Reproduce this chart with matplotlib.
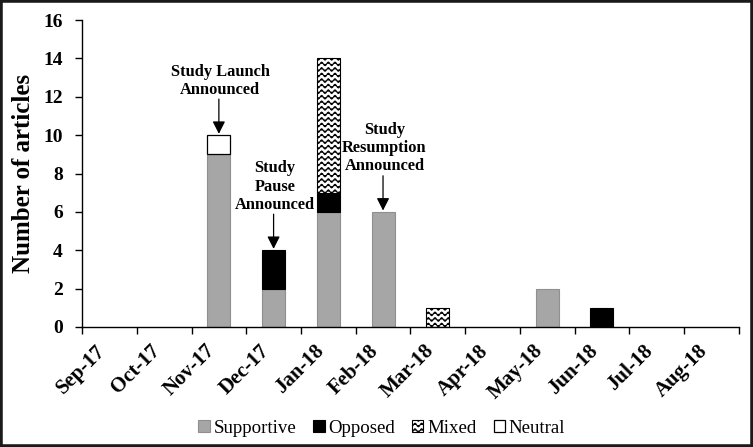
import numpy as np
import matplotlib
matplotlib.use("Agg")
import matplotlib.pyplot as plt
import matplotlib.hatch as mhatch
from matplotlib.path import Path
from matplotlib.patches import Rectangle

# ---------------- data ----------------
months = ["Sep-17", "Oct-17", "Nov-17", "Dec-17", "Jan-18", "Feb-18",
          "Mar-18", "Apr-18", "May-18", "Jun-18", "Jul-18", "Aug-18"]
supportive = [0, 0, 9, 2, 6, 6, 0, 0, 2, 0, 0, 0]
opposed    = [0, 0, 0, 2, 1, 0, 0, 0, 0, 1, 0, 0]
mixed      = [0, 0, 0, 0, 7, 0, 1, 0, 0, 0, 0, 0]
neutral    = [0, 0, 1, 0, 0, 0, 0, 0, 0, 0, 0, 0]
series_names = ["Supportive", "Opposed", "Mixed", "Neutral"]
events = ["Study Launch\nAnnounced", "Study\nPause\nAnnounced", "Study\nResumption\nAnnounced"]
event_months = ["Nov-17", "Dec-17", "Feb-18"]
yticks = [0, 2, 4, 6, 8, 10, 12, 14, 16]


# ---------------- wavy hatch (replaces the '-' hatch) ----------------
class WaveHatch(mhatch.HatchPatternBase):
    periods = 15
    per_period = 8
    amp = 0.018

    def __init__(self, hatch, density):
        self.num_lines = int((hatch.count('-') + hatch.count('+')) * density)
        self.npts = self.periods * self.per_period + 1
        self.num_vertices = self.num_lines * self.npts

    def set_vertices_and_codes(self, vertices, codes):
        n = self.num_lines
        x = np.linspace(0.0, 1.0, self.npts)
        for i in range(n):
            s = (i + 0.5) / n
            sl = slice(i * self.npts, (i + 1) * self.npts)
            vertices[sl, 0] = x
            vertices[sl, 1] = s + self.amp * np.sin(2 * np.pi * self.periods * x)
            codes[sl] = Path.LINETO
            codes[i * self.npts] = Path.MOVETO


for k, cls in enumerate(mhatch._hatch_types):
    if cls is mhatch.HorizontalHatch:
        mhatch._hatch_types[k] = WaveHatch

plt.rcParams['font.family'] = ['Liberation Serif', 'DejaVu Serif']
plt.rcParams['hatch.linewidth'] = 0.8
plt.rcParams['hatch.color'] = 'black'

fig = plt.figure(figsize=(7.53, 4.47), dpi=100)
ax = fig.add_axes([0.109, 0.2685, 0.872, 0.6865])

x = np.arange(len(months))
w = 0.42
sup = np.array(supportive, float)
opp = np.array(opposed, float)
mix = np.array(mixed, float)
neu = np.array(neutral, float)


def nz(v):
    return np.where(v > 0, v, np.nan)


ax.bar(x, nz(sup), w, color='#a6a6a6', edgecolor='#8f8f8f', linewidth=0.8, label=series_names[0])
ax.bar(x, nz(opp), w, bottom=sup, color='black', edgecolor='black', linewidth=0.8,
       label=series_names[1])
ax.bar(x, nz(mix), w, bottom=sup + opp, color='white', edgecolor='black', linewidth=0.8,
       hatch='---', label=series_names[2])
ax.bar(x, nz(neu), w, bottom=sup + opp + mix, color='white', edgecolor='black', linewidth=0.9,
       label=series_names[3])

total = sup + opp + mix + neu
for txt, m in zip(events, event_months):
    i = months.index(m)
    ax.annotate('', xy=(i, total[i]), xytext=(0, 26), textcoords='offset points',
                arrowprops=dict(arrowstyle='-|>,head_length=0.75,head_width=0.38',
                                color='black', lw=0.9, shrinkA=0, shrinkB=1))
    ax.annotate(txt, xy=(i, total[i]), xytext=(1, 27), textcoords='offset points',
                ha='center', va='bottom', fontsize=11.8, fontweight='bold',
                linespacing=1.18)

ax.set_xlim(-0.5, len(months) - 0.5)
ax.set_ylim(0, 16)
ax.set_yticks(yticks)
ax.set_yticklabels([str(v) for v in yticks], fontsize=14, fontweight='bold')
ax.set_xticks(np.arange(len(months) + 1) - 0.5)
ax.set_xticklabels([])
ax.set_xticks(x, minor=True)
ax.set_xticklabels(months, minor=True, rotation=45, ha='right', fontsize=15,
                   fontweight='bold')
ax.tick_params(axis='x', which='minor', length=0, pad=10)
ax.tick_params(axis='x', which='major', direction='out', length=5, width=1)
ax.tick_params(axis='y', direction='out', length=5, width=1, pad=9)
for s in ['top', 'right']:
    ax.spines[s].set_visible(False)
for s in ['left', 'bottom']:
    ax.spines[s].set_linewidth(1)
ax.set_ylabel('Number of articles', fontsize=18, fontweight='bold', labelpad=6)

fig.legend(loc='center', bbox_to_anchor=(0.507, 0.042), ncol=4, frameon=False,
           fontsize=13.6, handlelength=0.6, handleheight=0.6, handletextpad=0.2,
           columnspacing=0.9)

fig.patches.append(Rectangle((0, 0), 1, 1, transform=fig.transFigure, fill=False,
                             lw=4, ec='#1a1a1a'))

fig.savefig('out.png', dpi=100)
